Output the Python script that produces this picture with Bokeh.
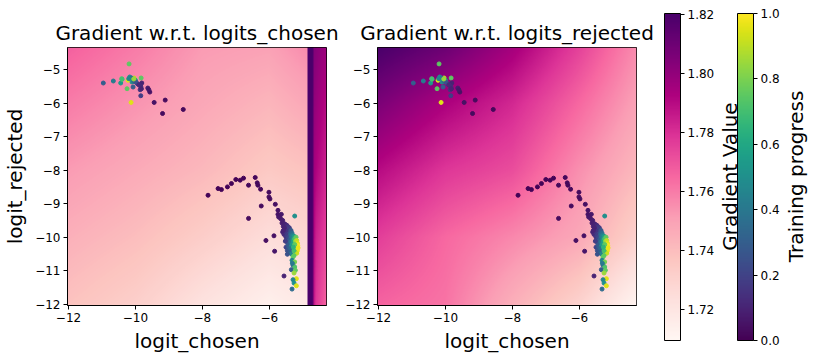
import numpy as np
from math import pi
from bokeh.plotting import figure
from bokeh.layouts import row
from bokeh.models import (Range1d, LinearColorMapper, ColorBar, FixedTicker, Label,
                          ColumnDataSource)
from bokeh.palettes import RdPu9, Viridis256
from bokeh.transform import linear_cmap
from bokeh.embed import file_html
from bokeh.resources import INLINE

FONT = "DejaVu Sans"

# ---------------- data ----------------
X_RANGE = (-12.03, -4.29)
Y_RANGE = (-12.04, -4.34)
X_TICKS = [-12, -10, -8, -6]
Y_TICKS = [-12, -11, -10, -9, -8, -7, -6, -5]
GRAD_LOW, GRAD_HIGH = 1.7096, 1.8202
GRAD_TICKS = [1.72, 1.74, 1.76, 1.78, 1.80, 1.82]
PROG_TICKS = [0.0, 0.2, 0.4, 0.6, 0.8, 1.0]

chosen_x_nodes = [-12.03, -10, -8, -6, -4.86, -4.84, -4.70, -4.68, -4.60, -4.29]
chosen_y_nodes = [-12.04, -10, -8, -6, -4.34]
chosen_grid = [
    [1.738, 1.732, 1.722, 1.714, 1.718, 1.83, 1.83, 1.793, 1.778, 1.766],
    [1.745, 1.740, 1.733, 1.725, 1.728, 1.83, 1.83, 1.796, 1.784, 1.775],
    [1.752, 1.747, 1.742, 1.735, 1.738, 1.83, 1.83, 1.799, 1.792, 1.783],
    [1.760, 1.754, 1.748, 1.743, 1.748, 1.83, 1.83, 1.802, 1.798, 1.790],
    [1.767, 1.760, 1.752, 1.750, 1.756, 1.83, 1.83, 1.805, 1.803, 1.797],
]

# gradient field w.r.t. logits_rejected
rejected_x_nodes = [-12.03, -10, -8, -6, -4.29]
rejected_y_nodes = [-12.04, -10, -8, -6, -4.34]
rejected_grid = [
    [1.766, 1.762, 1.745, 1.730, 1.711],
    [1.776, 1.765, 1.757, 1.748, 1.731],
    [1.790, 1.778, 1.772, 1.755, 1.742],
    [1.806, 1.793, 1.782, 1.765, 1.750],
    [1.820, 1.810, 1.795, 1.775, 1.756],
]

# training trajectory (logit_chosen, logit_rejected, training progress)
traj_x = [
    -10.96, -10.66, -10.44, -10.41, -10.25, -10.19, -10.13, -10.22, -10.04, -9.83,
    -10.17, -10.10, -10.14, -10.07, -10.00, -10.12, -10.20, -10.05, -10.07, -9.94,
    -9.98, -9.84, -9.86, -9.81, -9.90, -9.63, -9.57, -9.60, -9.84, -9.44,
    -9.11, -9.19, -8.57, -10.05, -10.40, -9.87, -9.82,
    -7.83, -7.53, -7.43, -7.25, -7.13, -7.00, -6.87, -6.77, -6.62, -6.42,
    -6.36, -6.34, -6.26, -6.62, -6.24, -6.01, -6.01, -5.98, -5.82, -5.74,
    -5.74, -5.69, -5.64, -5.72, -5.66, -5.60, -5.62, -5.55, -5.58, -5.50,
    -5.52, -5.45, -5.60, -5.56, -5.48, -5.42, -5.50, -5.45, -5.40, -5.38,
    -5.46, -5.40, -5.86, -6.10, -5.84, -5.56, -5.50, -5.46, -5.42, -5.24,
    -5.52, -5.47, -5.44, -5.40, -5.50, -5.44, -5.38, -5.47, -5.42, -5.36,
    -5.40, -5.44, -5.38, -5.55, -5.58, -5.52, -5.35, -5.32,
    -5.36, -5.33, -5.32, -5.30, -5.28, -5.35, -5.33, -5.30, -5.27, -5.25,
    -5.36, -5.38, -5.34, -5.30, -5.27, -5.25,
    -5.24, -5.22, -5.20, -5.18, -5.20, -5.16, -5.22, -5.18, -5.15, -5.20,
    -5.16, -5.23, -5.18, -5.26, -5.14, -5.24, -5.28, -5.26,
    -5.29, -5.32, -5.29, -5.24, -5.24, -5.34, -5.22, -5.26, -5.19, -5.29,
    -5.26, -5.19, -5.32, -5.31, -5.46,
]
traj_y = [
    -5.40, -5.34, -5.40, -5.27, -5.57, -4.83, -5.98, -5.32, -5.25, -5.25,
    -5.22, -5.37, -5.28, -5.30, -5.32, -5.25, -5.27, -5.35, -5.52, -5.42,
    -5.38, -5.50, -5.60, -5.40, -5.45, -5.55, -5.67, -5.60, -5.78, -5.98,
    -5.91, -6.31, -6.19, -5.28, -5.29, -5.47, -5.57,
    -8.75, -8.55, -8.58, -8.50, -8.40, -8.28, -8.30, -8.24, -8.45, -8.22,
    -8.38, -8.45, -8.57, -9.44, -9.07, -8.66, -8.80, -8.86, -9.02, -9.20,
    -9.32, -9.36, -9.32, -9.40, -9.45, -9.50, -9.58, -9.60, -9.68, -9.70,
    -9.78, -9.75, -9.85, -9.92, -9.88, -9.85, -10.00, -10.05, -9.95, -10.05,
    -10.15, -10.20, -9.96, -10.10, -10.42, -11.16, -10.30, -10.40, -10.28, -9.37,
    -9.62, -9.65, -9.70, -9.72, -9.85, -9.92, -9.88, -9.95, -10.00, -10.02,
    -10.10, -10.22, -10.30, -9.72, -9.80, -10.12, -9.80, -9.88,
    -9.92, -10.00, -10.10, -9.95, -10.05, -10.15, -10.25, -10.35, -10.15, -9.98,
    -10.35, -10.45, -10.50, -10.20, -10.10, -10.35,
    -10.05, -10.12, -10.00, -10.10, -10.20, -10.18, -10.28, -10.30, -10.25, -10.38,
    -10.40, -10.45, -10.48, -10.40, -10.32, -10.22, -10.30, -10.55,
    -10.59, -10.69, -10.84, -10.74, -10.89, -10.97, -10.99, -11.07, -11.24, -11.27,
    -11.37, -11.45, -11.55, -10.78, -10.51,
]
traj_progress = [
    0.30, 0.42, 0.55, 0.72, 0.75, 0.75, 0.95, 0.95, 0.90, 0.75,
    0.50, 0.50, 0.60, 0.65, 0.55, 0.40, 0.45, 0.35, 0.30, 0.20,
    0.25, 0.15, 0.15, 0.10, 0.12, 0.08, 0.05, 0.06, 0.18, 0.05,
    0.03, 0.03, 0.02, 0.85, 0.70, 0.12, 0.10,
    0.01, 0.01, 0.01, 0.01, 0.01, 0.01, 0.01, 0.01, 0.02, 0.02,
    0.02, 0.02, 0.02, 0.03, 0.03, 0.03, 0.03, 0.03, 0.04, 0.05,
    0.05, 0.05, 0.06, 0.06, 0.07, 0.08, 0.08, 0.09, 0.10, 0.12,
    0.12, 0.15, 0.10, 0.12, 0.15, 0.18, 0.15, 0.20, 0.22, 0.25,
    0.20, 0.28, 0.05, 0.04, 0.06, 0.10, 0.20, 0.25, 0.30, 0.50,
    0.10, 0.12, 0.15, 0.18, 0.15, 0.20, 0.25, 0.18, 0.22, 0.30,
    0.30, 0.28, 0.32, 0.10, 0.10, 0.18, 0.28, 0.35,
    0.35, 0.40, 0.45, 0.45, 0.50, 0.40, 0.50, 0.55, 0.60, 0.55,
    0.35, 0.30, 0.45, 0.55, 0.60, 0.65,
    0.70, 0.80, 0.75, 0.90, 0.85, 0.95, 0.80, 0.95, 1.00, 0.90,
    0.98, 0.85, 0.92, 0.70, 0.97, 0.75, 0.65, 0.75,
    0.75, 0.45, 0.35, 0.80, 0.72, 0.30, 0.75, 0.85, 0.95, 0.45,
    0.50, 0.95, 0.35, 0.40, 0.25,
]

# ---------------- helpers ----------------
def hex_to_rgb(h):
    h = h.lstrip("#")
    return [int(h[i:i + 2], 16) for i in (0, 2, 4)]


def make_palette(colors, n=256):
    rgb = np.array([hex_to_rgb(c) for c in colors], dtype=float)
    pos = np.linspace(0, 1, len(colors))
    t = np.linspace(0, 1, n)
    out = []
    for v in t:
        r = np.interp(v, pos, rgb[:, 0])
        g = np.interp(v, pos, rgb[:, 1])
        b = np.interp(v, pos, rgb[:, 2])
        out.append("#%02x%02x%02x" % (int(round(r)), int(round(g)), int(round(b))))
    return out


def render_field(xn, yn, grid, nx=600, ny=600):
    g = np.array(grid, dtype=float)
    xs = np.linspace(X_RANGE[0], X_RANGE[1], nx)
    ys = np.linspace(Y_RANGE[0], Y_RANGE[1], ny)
    tmp = np.array([np.interp(xs, xn, r) for r in g])
    img = np.array([np.interp(ys, yn, tmp[:, j]) for j in range(nx)]).T
    return img


RDPU = make_palette(list(reversed(RdPu9)))
grad_mapper = LinearColorMapper(palette=RDPU, low=GRAD_LOW, high=GRAD_HIGH)
prog_mapper = LinearColorMapper(palette=Viridis256, low=0.0, high=1.0)

MINUS = "\u2212"


def fmt(v):
    return ("%g" % v).replace("-", MINUS)


src = ColumnDataSource(dict(x=traj_x, y=traj_y, p=traj_progress))

H = 359
TOP, FRAME_H = 47, 258
BOTTOM = H - TOP - FRAME_H


def style(p, show_ylabel):
    p.xaxis.ticker = FixedTicker(ticks=X_TICKS)
    p.yaxis.ticker = FixedTicker(ticks=Y_TICKS)
    p.xaxis.major_label_overrides = {t: fmt(t) for t in X_TICKS}
    p.yaxis.major_label_overrides = {t: fmt(t) for t in Y_TICKS}
    for ax in (p.xaxis[0], p.yaxis[0]):
        ax.axis_line_color = "black"
        ax.axis_line_width = 1
        ax.major_tick_line_color = "black"
        ax.major_tick_out = 4
        ax.major_tick_in = 0
        ax.minor_tick_line_color = None
        ax.major_label_text_font = FONT
        ax.major_label_text_font_size = "12px"
        ax.major_label_text_color = "black"
        ax.major_label_standoff = 3
        ax.axis_label_text_font = FONT
        ax.axis_label_text_font_size = "20px"
        ax.axis_label_text_font_style = "normal"
        ax.axis_label_text_color = "black"
    p.xaxis.axis_label_standoff = 4
    p.yaxis.axis_label_standoff = 5
    p.xaxis.axis_label = "logit_chosen"
    if show_ylabel:
        p.yaxis.axis_label = "logit_rejected"
    p.grid.visible = False
    p.outline_line_color = "black"
    p.outline_line_width = 1
    p.title.text_font = FONT
    p.title.text_font_size = "20px"
    p.title.text_font_style = "normal"
    p.title.text_color = "black"
    p.title.align = "center"
    p.title.standoff = 5


def panel(title, xn, yn, grid, width, left, right):
    p = figure(width=width, height=H, title=title,
               x_range=Range1d(*X_RANGE), y_range=Range1d(*Y_RANGE),
               output_backend="svg", toolbar_location=None,
               min_border_left=left, min_border_right=right,
               min_border_top=TOP, min_border_bottom=BOTTOM)
    img = render_field(xn, yn, grid)
    p.image(image=[img], x=X_RANGE[0], y=Y_RANGE[0],
            dw=X_RANGE[1] - X_RANGE[0], dh=Y_RANGE[1] - Y_RANGE[0],
            color_mapper=grad_mapper)
    p.scatter("x", "y", source=src, size=4,
              color=linear_cmap("p", Viridis256, 0.0, 1.0))
    return p


# left panel: page x 0..342, frame 67..326
p1 = panel("Gradient w.r.t. logits_chosen", chosen_x_nodes, chosen_y_nodes,
           chosen_grid, 342, 67, 16)
style(p1, True)
# right panel: page x 342..658, frame 377..636
p2 = panel("Gradient w.r.t. logits_rejected", rejected_x_nodes, rejected_y_nodes,
           rejected_grid, 316, 35, 22)
style(p2, False)

# colorbars: page x 658..814
P3_X0 = 658
p3 = figure(width=156, height=H, x_range=Range1d(0, 1), y_range=Range1d(0, 1),
            output_backend="svg", toolbar_location=None,
            x_axis_type=None, y_axis_type=None,
            min_border_left=0, min_border_right=0,
            min_border_top=TOP, min_border_bottom=BOTTOM)
p3.outline_line_color = None
p3.grid.visible = False

FRAME_BOTTOM = TOP + FRAME_H  # page y of frame bottom
BAR_TOP, BAR_BOTTOM = 13, 340


def cbar(mapper, ticks, x_page, fmt_str):
    cb = ColorBar(color_mapper=mapper, ticker=FixedTicker(ticks=ticks),
                  width=16, height=BAR_BOTTOM - BAR_TOP,
                  location=(x_page - P3_X0, FRAME_BOTTOM - BAR_BOTTOM), padding=0,
                  major_label_text_font=FONT, major_label_text_font_size="12px",
                  major_label_text_color="black",
                  major_tick_line_color="black", major_tick_in=0, major_tick_out=4,
                  minor_tick_line_color=None, label_standoff=3,
                  bar_line_color="black", bar_line_width=1,
                  background_fill_alpha=0, border_line_color=None)
    cb.major_label_overrides = {t: fmt_str % t for t in ticks}
    return cb


p3.add_layout(cbar(grad_mapper, GRAD_TICKS, 664, "%.2f"), "center")
p3.add_layout(cbar(prog_mapper, PROG_TICKS, 737, "%.1f"), "center")


def side_label(text, x_page):
    return Label(x=x_page - P3_X0, y=FRAME_BOTTOM - 176, x_units="screen", y_units="screen",
                 text=text, angle=pi / 2, text_align="center",
                 text_baseline="middle", text_font=FONT, text_font_size="20px",
                 text_color="black")


p3.add_layout(side_label("Gradient Value", 729))
p3.add_layout(side_label("Training progress", 795))

layout = row(p1, p2, p3, spacing=0)
open("out.html", "w").write(file_html(layout, INLINE))
